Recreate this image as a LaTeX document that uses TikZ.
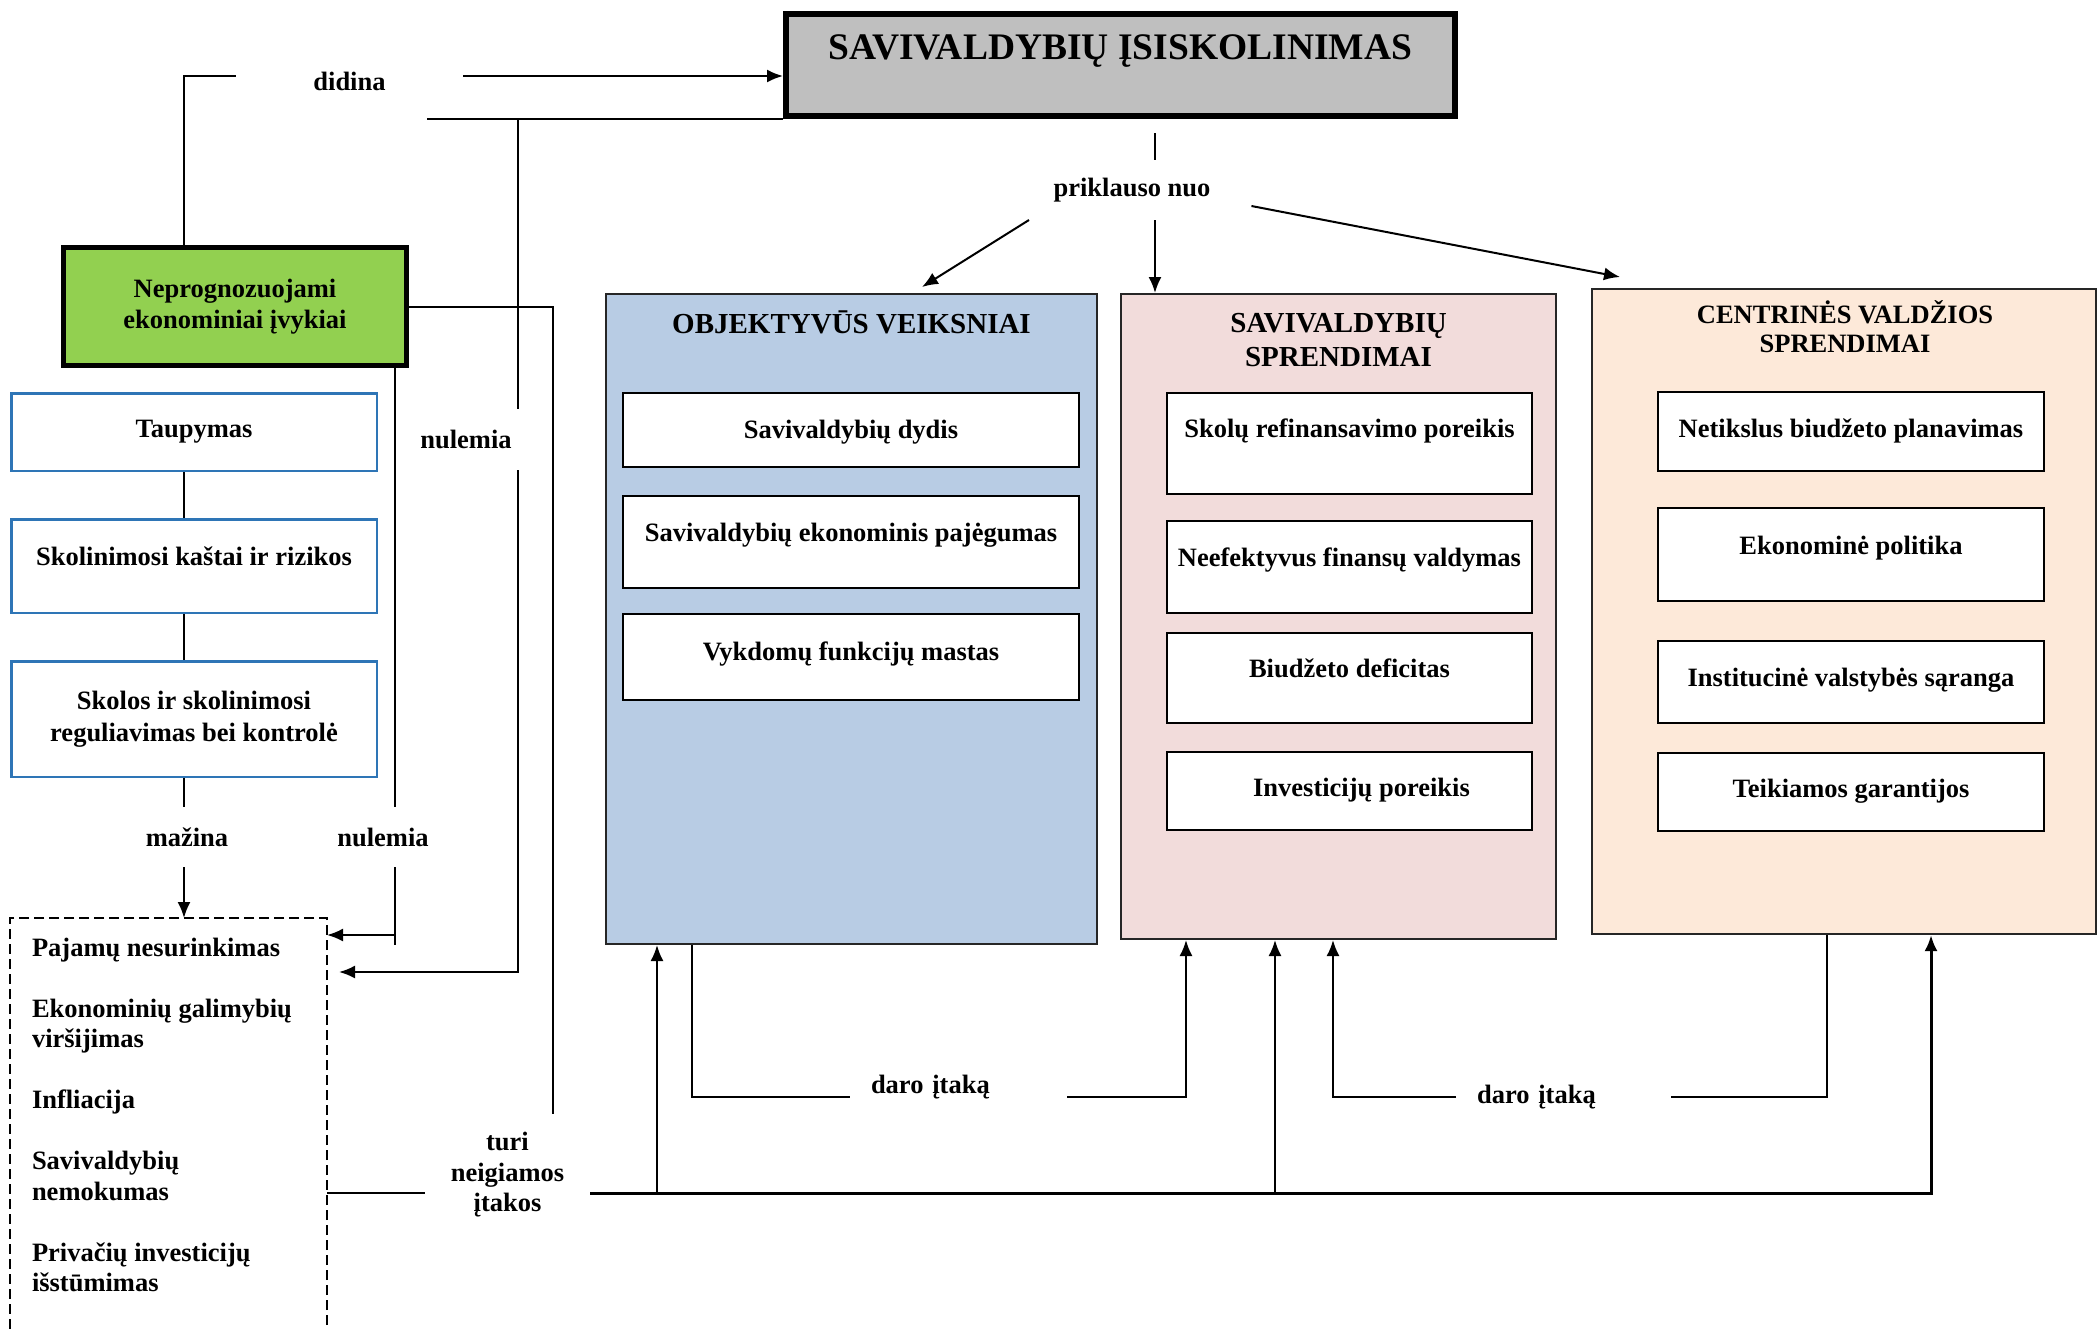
\documentclass[tikz,border=0pt]{standalone}
\usepackage{fontspec}
\setmainfont{Liberation Serif}
\usetikzlibrary{arrows.meta}

\definecolor{debtgray}{HTML}{BFBFBF}
\definecolor{shockgreen}{HTML}{92D050}
\definecolor{objblue}{HTML}{B8CCE4}
\definecolor{munpink}{HTML}{F2DCDB}
\definecolor{govorange}{HTML}{FDE9D9}
\definecolor{frameblue}{HTML}{2E75B6}

\newcommand{\bodyfont}{\bfseries\fontsize{26.5}{31.5}\selectfont}
\newcommand{\listfont}{\bfseries\fontsize{26.5}{30.5}\selectfont}
\newcommand{\titlefont}{\bfseries\fontsize{37.5}{40}\selectfont}

\tikzset{
  panel/.style={draw=black!85, line width=2pt},
  itembox/.style={draw, fill=white, line width=2pt, font=\bodyfont, align=center, inner sep=2pt},
  leftbox/.style={draw=frameblue, fill=white, line width=2.5pt, minimum width=365.5pt, font=\bodyfont, align=center},
  tag/.style={font=\bodyfont, align=center, inner sep=0pt},
}

\begin{document}
\begin{tikzpicture}[x=1pt, y=-1pt, line width=2pt, >={Latex[length=16pt,width=13pt]}]
    \useasboundingbox (0,0) rectangle (2098,1328);

    % axes of the connectors
    \coordinate (lx) at (184,0);
    \coordinate (bx) at (395,0);
    \coordinate (ax) at (518,0);
    \coordinate (cx) at (553,0);
    \coordinate (dx) at (1155,0);
    \coordinate (objx) at (657,0);
    \coordinate (ox2) at (692,0);
    \coordinate (mx1) at (1186,0);
    \coordinate (munx) at (1275,0);
    \coordinate (mx2) at (1333,0);
    \coordinate (gx2) at (1827,0);
    \coordinate (govx) at (1931,0);
    \coordinate (bus) at (0,1193);

    % main box
    \node[draw, line width=6pt, fill=debtgray, minimum width=669pt, minimum height=102pt, font=\titlefont, text depth=35pt] (debt) at (1120.5,65) {SAVIVALDYBIŲ ĮSISKOLINIMAS};

    % unpredictable events
    \node[draw, line width=5pt, fill=shockgreen, minimum width=343pt, minimum height=118pt, font=\bodyfont, align=center] (shock) at (235,306.5) {Neprognozuojami\\ekonominiai įvykiai};

    % left column
    \node[leftbox, minimum height=77.5pt, text depth=6pt] (save) at (194,432) {Taupymas};
    \node[leftbox, minimum height=93.5pt, text depth=20pt] (cost) at (194,566) {Skolinimosi kaštai ir rizikos};
    \node[leftbox, minimum height=115.5pt] (rule) at (194,719) {Skolos ir skolinimosi\\reguliavimas bei kontrolė};

    % labels
    \node[tag, minimum width=225pt, text height=29pt] (didina) at (349.5,76) {didina};
    \node[tag, minimum height=59pt] (nulemiaA) at (466,439.5) {nulemia};
    \node[tag, minimum height=58pt] (mazina) at (187,837) {mažina};
    \node[tag, minimum height=58pt] (nulemiaB) at (383,837) {nulemia};
    \node[tag, minimum height=58pt] (depends) at (1132,190) {priklauso nuo};

    % consequences
    \node[draw, dash pattern=on 10pt off 5pt, line width=2.5pt, minimum width=317pt, minimum height=450pt, anchor=north west, outer sep=0pt] (effects) at (10,918) {};
    \node[font=\listfont, align=left, anchor=north west, inner sep=0pt] (effectlist) at (31,937) {Pajamų nesurinkimas\\[30.5pt]Ekonominių galimybių\\viršijimas\\[30.5pt]Infliacija\\[30.5pt]Savivaldybių\\nemokumas\\[30.5pt]Privačių investicijų\\išstūmimas};
    \node[tag, font=\listfont, minimum width=163pt, inner ysep=18pt] (negative) at (507.5,1175) {turi\\neigiamos\\įtakos};

    % objective factors
    \node[panel, fill=objblue, minimum width=491pt, minimum height=650pt] (objective) at (851.5,619) {};
    \node[font=\bfseries\fontsize{29}{32}\selectfont, anchor=base] (objtitle) at (851.5,333) {OBJEKTYVŪS VEIKSNIAI};
    \node[itembox, minimum width=456pt, minimum height=74pt, text depth=2pt] (o1) at (851,430) {Savivaldybių dydis};
    \node[itembox, minimum width=456pt, minimum height=92pt, text depth=20pt] (o2) at (851,542) {Savivaldybių ekonominis pajėgumas};
    \node[itembox, minimum width=456pt, minimum height=86pt, text depth=12pt] (o3) at (851,657) {Vykdomų funkcijų mastas};

    % municipal decisions
    \node[panel, fill=munpink, minimum width=435pt, minimum height=645pt] (municipal) at (1338.5,616.5) {};
    \node[font=\bfseries\fontsize{29}{34}\selectfont, align=center, inner sep=0pt] (muntitle) at (1338.5,340) {SAVIVALDYBIŲ\\SPRENDIMAI};
    \node[itembox, minimum width=365pt, minimum height=101pt, text depth=31pt] (m1) at (1349.5,443.5) {Skolų refinansavimo poreikis};
    \node[itembox, minimum width=365pt, minimum height=92pt, text depth=19pt] (m2) at (1349.5,567) {Neefektyvus finansų valdymas};
    \node[itembox, minimum width=365pt, minimum height=89.5pt, text depth=19pt] (m3) at (1349.5,678) {Biudžeto deficitas};
    \node[itembox, minimum width=365pt, minimum height=78pt, text depth=8pt] (m4) at (1349.5,791) {\hspace*{24pt}Investicijų poreikis};

    % central government decisions
    \node[panel, fill=govorange, minimum width=504pt, minimum height=645pt] (central) at (1844,611.5) {};
    \node[font=\bfseries\fontsize{26.5}{29}\selectfont, align=center, inner sep=0pt] (govtitle) at (1845,327) {CENTRINĖS VALDŽIOS\\SPRENDIMAI};
    \node[itembox, minimum width=386pt, minimum height=79pt, text depth=7pt] (c1) at (1851,431.5) {Netikslus biudžeto planavimas};
    \node[itembox, minimum width=386pt, minimum height=93pt, text depth=19pt] (c2) at (1851,554.5) {Ekonominė politika};
    \node[itembox, minimum width=386pt, minimum height=82pt, text depth=10pt] (c3) at (1851,682) {Institucinė valstybės sąranga};
    \node[itembox, minimum width=386pt, minimum height=78pt, text depth=8pt] (c4) at (1851,792) {Teikiamos garantijos};

    % influence labels
    \node[tag, text width=175pt, align=left, inner xsep=20pt, text depth=26pt] (influenceA) at (958.5,1097) {daro įtaką};
    \node[tag, text width=173pt, align=left, inner xsep=20pt] (influenceB) at (1563.5,1097) {daro įtaką};

    % free ends
    \coordinate (dtop) at (1155,133);
    \coordinate (objtip) at (922,287);
    \coordinate (govtip) at (1620,277);
    \coordinate (inA) at (395,935);
    \coordinate (inB) at (339,972);

    % didina
    \draw (shock.north -| lx) |- (didina.west);
    \draw[->] (didina.east) -- (debt.west |- didina.east);

    % line under the main box, nulemia
    \draw (debt.south west) -- ++(-356,0) coordinate (tailA);
    \draw (ax |- tailA) -- (ax |- nulemiaA.north);
    \draw[->] (ax |- nulemiaA.south) |- (inB);

    % left column, mazina
    \draw (save.south -| lx) -- (cost.north -| lx);
    \draw (cost.south -| lx) -- (rule.north -| lx);
    \draw (rule.south -| lx) -- (lx |- mazina.north);
    \draw[->] (lx |- mazina.south) -- (lx |- effects.north);

    % nulemia from the events
    \draw (shock.south -| bx) -- (bx |- nulemiaB.north);
    \draw (bx |- nulemiaB.south) -- ++(0,78);
    \draw[->] (inA) -- (effects.east |- inA);

    % events to the negative effect
    \draw (shock.east) -| (cx |- negative.north);

    % negative effect line
    \draw (effects.east |- bus) -- (negative.west |- bus);
    \draw[->, line width=3pt] (negative.east |- bus) -| (central.south -| govx);
    \draw[->] (objx |- bus) -- (objective.south -| objx);
    \draw[->] (munx |- bus) -- (municipal.south -| munx);

    % daro itaka
    \draw (objective.south -| ox2) |- (influenceA.west);
    \draw[->] (influenceA.east) -| (municipal.south -| mx1);
    \draw[->] (influenceB.west) -| (municipal.south -| mx2);
    \draw (influenceB.east) -| (central.south -| gx2);

    % priklauso nuo
    \draw (dtop) -- (dx |- depends.north);
    \draw[->] (dx |- depends.south) -- (dx |- municipal.north);
    \draw[->] ([xshift=-103pt]depends.south) -- (objtip);
    \draw[->] ([xshift=40pt,yshift=-16pt]depends.east) -- (govtip);
\end{tikzpicture}
\end{document}
